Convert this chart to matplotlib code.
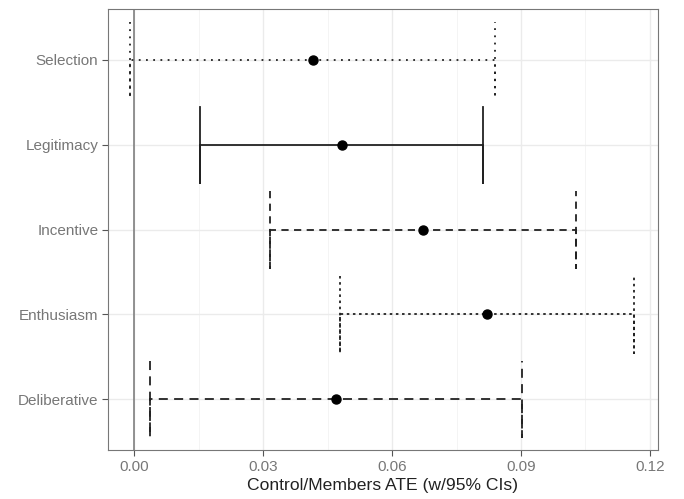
import matplotlib.pyplot as plt
from matplotlib.ticker import MultipleLocator

# ============================
# DATA
# ============================
labels = ["Selection", "Legitimacy", "Incentive", "Enthusiasm", "Deliberative"]
ate = [0.0417, 0.0484, 0.0672, 0.0820, 0.0469]
ci_low = [-0.0010, 0.0154, 0.0316, 0.0478, 0.0036]
ci_high = [0.0839, 0.0812, 0.1029, 0.1163, 0.0903]
x_ticks = [0.00, 0.03, 0.06, 0.09, 0.12]
x_tick_labels = ["0.00", "0.03", "0.06", "0.09", "0.12"]

# ggplot-like linetypes (dash units scale with linewidth)
styles = [(0, (1, 3)), "-", (0, (4, 3)), (0, (1.4, 2.0)), (0, (5, 3.5))]

plt.rcParams["font.family"] = ["Liberation Sans", "DejaVu Sans"]

fig = plt.figure(figsize=(6.84, 4.99), dpi=100)
ax = fig.add_axes([0.158, 0.098, 0.804, 0.884])

ys = list(range(len(labels)))
half = 0.45
for y, m, lo, hi, ls in zip(ys, ate, ci_low, ci_high, styles):
    # ggplot errorbar path: whisker, bar, whisker
    ax.plot([lo, lo, lo, hi, hi, hi], [y - half, y + half, y, y, y + half, y - half],
            color="#222222", lw=1.3, linestyle=ls, zorder=3)
    ax.plot(m, y, "o", color="black", markersize=6.5, zorder=4)

ax.axvline(0, color="#808080", lw=1.2, zorder=2)

ax.set_xlim(-0.0061, 0.1219)
ax.set_ylim(len(labels) - 0.4, -0.6)
ax.set_yticks(ys)
ax.set_yticklabels(labels)
ax.set_xticks(x_ticks)
ax.set_xticklabels(x_tick_labels)
ax.xaxis.set_minor_locator(MultipleLocator(0.015))

ax.grid(True, which="major", color="#EBEBEB", lw=1.0, zorder=0)
ax.grid(True, which="minor", axis="x", color="#F3F3F3", lw=0.6, zorder=0)
ax.set_axisbelow(True)

ax.tick_params(axis="both", which="major", length=4, width=0.8, color="#555555",
               labelsize=11, labelcolor="#777777", pad=3)
ax.tick_params(axis="x", which="minor", length=0)
for s in ax.spines.values():
    s.set_color("#777777")
    s.set_linewidth(0.8)

ax.set_xlabel("Control/Members ATE (w/95% CIs)", fontsize=12.6, color="#222222", labelpad=3)

fig.savefig("out.png", dpi=100)
